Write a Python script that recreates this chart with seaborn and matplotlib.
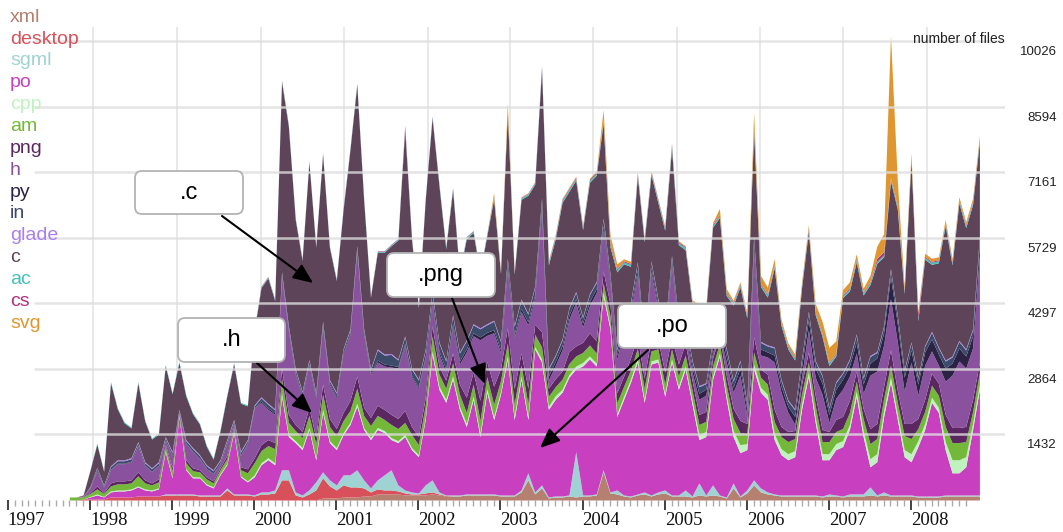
import pandas as pd
import seaborn as sns
import matplotlib
matplotlib.use("Agg")
import matplotlib.pyplot as plt
from matplotlib.patches import FancyBboxPatch, FancyArrowPatch
from matplotlib.transforms import Affine2D

# --- data: files touched per month, by extension (Oct 1997 .. Nov 2008) ---
months = pd.date_range("1997-10-01", periods=134, freq="MS")

xml = [0, 0, 0, 0, 0, 0, 0, 0, 0, 0, 0, 0,
       0, 0, 0, 0, 0, 0, 0, 0, 0, 0, 0, 0,
       0, 0, 0, 0, 0, 0, 0, 0, 0, 0, 0, 0,
       0, 44, 44, 44, 66, 66, 66, 88, 88, 132, 132, 132,
       132, 110, 110, 110, 110, 132, 110, 88, 88, 88, 110, 110,
       110, 110, 110, 88, 88, 88, 176, 440, 132, 264, 44, 66,
       66, 88, 66, 88, 88, 110, 616, 154, 132, 88, 66, 110,
       132, 88, 132, 154, 88, 88, 88, 66, 110, 88, 110, 88,
       44, 264, 66, 154, 330, 176, 132, 110, 88, 88, 88, 88,
       88, 88, 66, 88, 88, 66, 88, 88, 88, 110, 88, 110,
       88, 88, 88, 88, 66, 66, 66, 66, 88, 88, 88, 88,
       88, 88]
desktop = [0, 0, 22, 22, 22, 22, 66, 66, 66, 66, 88, 88,
           88, 88, 110, 110, 110, 110, 110, 88, 88, 88, 88, 220,
           110, 110, 110, 88, 132, 132, 154, 440, 440, 110, 66, 132,
           220, 440, 264, 176, 264, 220, 220, 176, 88, 110, 88, 88,
           66, 44, 22, 22, 44, 44, 22, 11, 0, 0, 0, 0,
           0, 0, 0, 0, 0, 0, 0, 0, 0, 0, 0, 0,
           0, 0, 0, 0, 0, 0, 0, 0, 0, 0, 0, 0,
           0, 0, 0, 0, 0, 0, 0, 0, 0, 0, 0, 0,
           0, 0, 0, 0, 0, 0, 0, 0, 0, 0, 0, 0,
           0, 0, 0, 0, 0, 0, 0, 0, 0, 0, 0, 0,
           0, 0, 0, 0, 0, 0, 0, 0, 0, 0, 0, 0,
           0, 0]
sgml = [0, 0, 0, 0, 0, 0, 0, 0, 0, 0, 0, 0,
        0, 0, 22, 22, 22, 22, 22, 22, 22, 22, 22, 44,
        22, 22, 22, 22, 44, 44, 66, 220, 220, 66, 44, 88,
        176, 132, 132, 110, 220, 264, 374, 176, 88, 198, 330, 440,
        132, 66, 44, 22, 176, 264, 44, 11, 22, 22, 22, 22,
        22, 22, 22, 22, 22, 22, 44, 154, 44, 66, 22, 22,
        22, 22, 990, 22, 22, 22, 44, 22, 88, 22, 22, 22,
        44, 22, 44, 66, 22, 22, 132, 22, 264, 22, 220, 22,
        22, 110, 22, 66, 110, 88, 44, 22, 22, 22, 22, 22,
        22, 22, 22, 44, 22, 22, 44, 44, 44, 176, 22, 66,
        22, 22, 22, 22, 22, 22, 22, 22, 22, 22, 22, 22,
        22, 22]
po = [0, 0, 0, 44, 88, 44, 110, 132, 132, 154, 198, 132,
      110, 154, 924, 352, 1694, 528, 352, 374, 220, 154, 440, 506,
      1342, 374, 264, 396, 594, 704, 550, 1606, 726, 1078, 990, 1320,
      484, 1298, 814, 770, 880, 1100, 1386, 1100, 1056, 1100, 924, 660,
      924, 1166, 924, 792, 1430, 2750, 2244, 2024, 2530, 1870, 1474, 2068,
      1254, 2222, 1628, 2200, 2970, 1650, 2420, 1166, 3124, 2684, 1914, 2112,
      2266, 2574, 1804, 2816, 2970, 2794, 3806, 3564, 1606, 2090, 2486, 2882,
      1958, 2860, 2838, 2046, 2904, 2310, 2640, 2002, 946, 1276, 2310, 3036,
      2134, 1012, 946, 880, 2420, 2090, 2024, 1188, 880, 770, 836, 1870,
      2596, 1584, 792, 748, 990, 1078, 1408, 2134, 1254, 440, 726, 1650,
      2464, 1650, 836, 726, 1078, 1452, 2046, 1826, 990, 484, 484, 616,
      1430, 2310]
cpp = [0, 0, 0, 11, 22, 11, 22, 22, 22, 22, 22, 22,
       22, 22, 22, 22, 22, 22, 22, 22, 22, 22, 22, 22,
       22, 22, 22, 44, 44, 44, 44, 66, 44, 44, 44, 44,
       44, 66, 44, 44, 44, 44, 66, 44, 44, 44, 44, 44,
       44, 44, 44, 44, 44, 66, 66, 66, 66, 66, 66, 66,
       66, 77, 66, 55, 66, 77, 66, 66, 55, 66, 66, 77,
       66, 55, 66, 77, 66, 66, 77, 66, 55, 66, 66, 77,
       66, 66, 66, 66, 66, 66, 66, 88, 110, 110, 66, 66,
       88, 132, 176, 132, 110, 110, 110, 132, 132, 132, 132, 110,
       88, 110, 132, 132, 132, 132, 110, 110, 132, 176, 176, 132,
       110, 110, 154, 176, 132, 132, 110, 110, 176, 286, 286, 220,
       132, 110]
am = [66, 66, 44, 66, 110, 66, 110, 132, 132, 132, 220, 132,
      110, 132, 88, 132, 44, 132, 132, 110, 110, 88, 88, 110,
      66, 132, 176, 264, 264, 264, 308, 330, 264, 220, 220, 264,
      308, 330, 308, 264, 264, 264, 330, 264, 264, 264, 242, 286,
      264, 264, 286, 220, 264, 330, 264, 242, 286, 264, 242, 264,
      286, 264, 264, 242, 286, 264, 242, 286, 264, 264, 220, 198,
      220, 242, 220, 220, 242, 220, 198, 220, 242, 220, 198, 220,
      242, 220, 220, 198, 220, 220, 242, 220, 220, 220, 220, 198,
      220, 264, 264, 220, 264, 220, 220, 264, 264, 264, 264, 220,
      220, 264, 264, 264, 264, 264, 264, 220, 264, 330, 330, 264,
      264, 264, 308, 330, 264, 264, 264, 264, 330, 374, 374, 330,
      264, 264]
png = [0, 0, 0, 22, 66, 22, 66, 66, 66, 66, 88, 66,
       44, 66, 44, 66, 22, 66, 66, 44, 44, 44, 44, 66,
       44, 66, 88, 110, 132, 132, 132, 220, 176, 132, 132, 176,
       132, 220, 176, 154, 176, 220, 264, 176, 176, 220, 220, 220,
       220, 264, 176, 176, 176, 220, 176, 176, 220, 220, 330, 264,
       440, 330, 396, 264, 330, 330, 264, 330, 220, 330, 176, 176,
       176, 264, 220, 220, 264, 264, 264, 264, 220, 220, 264, 264,
       220, 264, 220, 264, 264, 264, 264, 220, 220, 220, 176, 176,
       220, 220, 264, 220, 330, 176, 220, 264, 220, 220, 176, 220,
       220, 220, 264, 220, 264, 264, 264, 220, 220, 330, 330, 264,
       330, 264, 264, 330, 220, 264, 264, 264, 264, 330, 330, 330,
       264, 220]
h = [0, 0, 22, 88, 330, 110, 286, 374, 374, 396, 572, 308,
     242, 286, 88, 264, 0, 352, 352, 242, 176, 154, 88, 264,
     66, 242, 550, 1078, 924, 660, 616, 1991, 1815, 1089, 759, 935,
     869, 1243, 737, 671, 1265, 1441, 2739, 1595, 935, 946, 946, 1034,
     1100, 1430, 1078, 1056, 858, 484, 264, 176, 572, 440, 990, 792,
     1320, 572, 1166, 352, 1276, 1122, 902, 1386, 572, 2684, 176, 286,
     462, 704, 946, 330, 594, 1056, 902, 418, 726, 1012, 968, 1364,
     572, 1474, 638, 682, 1540, 748, 242, 176, 330, 352, 132, 66,
     286, 352, 990, 176, 1870, 308, 374, 1034, 748, 418, 132, 154,
     484, 396, 770, 198, 462, 594, 528, 396, 330, 1166, 1144, 902,
     1122, 1056, 704, 1342, 506, 748, 484, 396, 726, 1144, 1452, 1276,
     1122, 2354]
py = [0, 0, 0, 11, 22, 11, 11, 11, 11, 11, 11, 11,
      11, 11, 11, 11, 11, 11, 11, 11, 11, 11, 11, 11,
      11, 11, 11, 11, 33, 33, 33, 33, 33, 33, 33, 33,
      33, 33, 33, 33, 33, 33, 33, 33, 33, 44, 44, 44,
      33, 33, 33, 33, 33, 66, 66, 66, 66, 66, 66, 66,
      66, 66, 66, 66, 66, 66, 66, 66, 66, 88, 88, 88,
      88, 88, 88, 88, 88, 88, 88, 88, 88, 88, 88, 88,
      88, 88, 88, 88, 88, 88, 88, 110, 132, 132, 110, 132,
      132, 110, 154, 132, 176, 132, 110, 154, 132, 132, 176, 220,
      220, 198, 242, 176, 198, 220, 220, 242, 198, 264, 286, 264,
      484, 396, 308, 264, 242, 286, 264, 242, 286, 264, 286, 264,
      264, 242]
in_ = [0, 0, 0, 22, 44, 33, 55, 55, 55, 55, 55, 55,
       55, 55, 55, 55, 33, 55, 55, 55, 55, 55, 55, 55,
       55, 66, 55, 44, 66, 77, 66, 55, 66, 77, 66, 55,
       66, 77, 55, 66, 77, 66, 55, 66, 77, 220, 198, 231,
       143, 143, 143, 143, 143, 176, 176, 176, 176, 176, 176, 176,
       176, 165, 187, 176, 154, 176, 187, 165, 176, 132, 154, 121,
       132, 143, 132, 121, 154, 132, 143, 132, 121, 132, 143, 154,
       132, 121, 132, 143, 132, 154, 132, 132, 143, 121, 132, 154,
       143, 132, 154, 121, 132, 143, 132, 154, 132, 121, 143, 154,
       165, 143, 154, 132, 143, 121, 132, 154, 132, 143, 121, 132,
       154, 165, 143, 154, 132, 121, 143, 132, 154, 132, 143, 132,
       132, 143]
glade = [0, 0, 0, 11, 11, 11, 22, 22, 22, 22, 22, 22,
         22, 22, 22, 22, 22, 22, 22, 22, 22, 22, 22, 22,
         22, 22, 22, 22, 22, 22, 22, 22, 22, 22, 22, 22,
         22, 22, 22, 22, 22, 22, 22, 22, 22, 22, 22, 22,
         22, 22, 22, 22, 22, 22, 22, 22, 22, 22, 22, 22,
         22, 22, 22, 22, 22, 22, 22, 22, 22, 22, 22, 22,
         22, 22, 22, 22, 22, 22, 22, 22, 22, 22, 22, 22,
         22, 22, 22, 22, 22, 22, 22, 22, 22, 22, 22, 22,
         22, 22, 22, 22, 22, 22, 22, 22, 22, 22, 22, 22,
         22, 22, 22, 22, 22, 22, 22, 22, 22, 22, 22, 22,
         22, 22, 22, 22, 22, 22, 22, 22, 22, 22, 22, 22,
         22, 22]
c = [0, 0, 22, 352, 506, 297, 1815, 1111, 803, 649, 1287, 891,
     627, 605, 1551, 1265, 1023, 957, 737, 671, 407, 231, 627, 957,
     1221, 1045, 737, 1617, 2387, 2739, 2365, 4158, 4356, 3256, 2860, 4312,
     3168, 3652, 2882, 2442, 3036, 3916, 3520, 2816, 1562, 2112, 2222, 2354,
     2596, 4510, 2816, 1562, 3256, 3795, 3421, 2431, 2739, 1705, 2211, 1991,
     1199, 1925, 2651, 1463, 3179, 1122, 2178, 2574, 2222, 2827, 2255, 2541,
     2981, 2541, 2431, 1903, 2431, 2321, 2079, 583, 1683, 1199, 781, 1881,
     2167, 1881, 2101, 2167, 2343, 1595, 1551, 1210, 1694, 1562, 2464, 2211,
     1155, 1639, 1595, 1859, 2299, 1199, 1045, 1727, 1177, 1111, 1067, 1551,
     1749, 1001, 847, 913, 561, 1639, 1485, 1573, 1793, 1551, 1925, 1507,
     1914, 2321, 1661, 3971, 1232, 1881, 1463, 1837, 2937, 1991, 3003, 2651,
     2717, 2057]
ac = [0, 0, 0, 11, 22, 22, 22, 22, 22, 22, 22, 22,
      22, 22, 22, 22, 22, 22, 22, 22, 22, 22, 22, 22,
      22, 22, 22, 22, 22, 22, 22, 22, 22, 22, 22, 22,
      22, 22, 22, 22, 22, 22, 22, 22, 22, 22, 22, 22,
      22, 22, 22, 22, 22, 33, 33, 33, 33, 33, 33, 33,
      33, 33, 33, 33, 33, 33, 33, 33, 33, 44, 44, 44,
      44, 44, 44, 44, 44, 44, 44, 44, 44, 44, 44, 44,
      44, 44, 44, 44, 66, 44, 44, 44, 44, 44, 44, 44,
      44, 44, 44, 44, 44, 44, 44, 44, 44, 44, 44, 44,
      44, 44, 44, 44, 44, 44, 44, 44, 44, 44, 44, 44,
      44, 44, 44, 44, 44, 44, 44, 44, 44, 44, 44, 44,
      44, 44]
cs = [0, 0, 0, 0, 0, 0, 0, 0, 0, 0, 0, 0,
      0, 0, 0, 0, 0, 0, 0, 0, 0, 0, 0, 0,
      0, 0, 0, 0, 11, 11, 11, 11, 11, 11, 11, 11,
      11, 11, 11, 11, 11, 11, 11, 11, 11, 11, 11, 11,
      11, 66, 11, 11, 11, 11, 11, 11, 11, 11, 11, 11,
      11, 11, 11, 11, 11, 11, 11, 11, 11, 22, 22, 22,
      22, 22, 22, 22, 22, 22, 22, 44, 22, 22, 22, 22,
      22, 22, 22, 22, 22, 22, 22, 22, 22, 22, 22, 22,
      22, 22, 22, 22, 22, 22, 22, 22, 22, 22, 22, 22,
      22, 22, 22, 22, 22, 22, 22, 22, 22, 22, 66, 66,
      22, 22, 22, 22, 110, 22, 22, 22, 22, 22, 22, 22,
      22, 22]
svg = [0, 0, 0, 0, 0, 0, 0, 0, 0, 0, 0, 0,
       0, 0, 0, 0, 0, 0, 0, 0, 0, 0, 0, 0,
       0, 0, 0, 0, 0, 0, 0, 0, 0, 0, 0, 0,
       0, 0, 0, 0, 0, 0, 0, 0, 0, 0, 0, 0,
       0, 0, 0, 0, 0, 0, 0, 0, 0, 0, 0, 0,
       0, 0, 88, 22, 176, 11, 11, 11, 11, 0, 22, 22,
       22, 22, 22, 22, 22, 22, 220, 176, 110, 44, 44, 22,
       22, 22, 22, 22, 22, 22, 22, 33, 33, 33, 33, 132,
       88, 44, 44, 44, 330, 176, 154, 132, 66, 66, 66, 66,
       66, 176, 264, 330, 264, 110, 132, 110, 88, 132, 264, 396,
       3113, 550, 88, 88, 44, 66, 66, 66, 66, 66, 66, 66,
       66, 66]

extensions = ["xml", "desktop", "sgml", "po", "cpp", "am", "png", "h",
              "py", "in", "glade", "c", "ac", "cs", "svg"]
series = [xml, desktop, sgml, po, cpp, am, png, h, py, in_, glade, c, ac, cs, svg]
palette = ["#b5806f", "#d8505a", "#9fd3d3", "#c83fc0", "#bff2bf", "#74b83a",
           "#5b2760", "#8a519f", "#2b2244", "#3c4b6a", "#a97ef0", "#5d4458",
           "#45c0bb", "#b0307e", "#e0962f"]
tick_values = [1432, 2864, 4297, 5729, 7161, 8594, 10026]
years = list(range(1997, 2009))

assert all(len(s) == len(months) for s in series)
df = pd.DataFrame(dict(zip(extensions, series)), index=months)
t = df.index.year + (df.index.month - 1) / 12

# --- drawing ---
sns.set_style("white")
plt.rcParams["font.family"] = ["Liberation Sans", "DejaVu Sans"]

W, H = 1063, 532
fig = plt.figure(figsize=(W / 100, H / 100), dpi=100)
ax = fig.add_axes([0, 32 / H, 1005 / W, 473 / H])

# vertical grid sits behind the streams
for g in [1998.04, 1999.06, 2000.08, 2001.09, 2002.12, 2003.12,
          2004.13, 2005.15, 2006.16, 2007.17, 2008.19]:
    ax.axvline(g, color="#e4e4e4", lw=1.2, zorder=0)

ax.stackplot(t, df.T.values, colors=palette, linewidth=0, zorder=2)

# horizontal grid is drawn over the streams
for v in tick_values:
    ax.axhline(v, xmin=35 / 1005, xmax=1, color="#dedede", lw=1.8, alpha=0.8, zorder=4)
    ax.annotate(f"{v}", xy=(1, v), xycoords=("axes fraction", "data"),
                xytext=(52, -11), textcoords="offset pixels",
                ha="right", va="center", fontsize=9.5, color="#222222")

ax.set_xlim(1996.904, 2009.145)
ax.set_ylim(0, 10332)
ax.set_yticks([])
ax.set_xticks(years)
ax.set_xticklabels([str(y) for y in years], fontfamily="Liberation Serif",
                   fontsize=13.5, ha="left")
ax.set_xticks([y + m / 12 for y in years for m in range(12) if y + m / 12 < 2008.7],
              minor=True)
ax.tick_params(axis="x", which="major", bottom=True, length=7.5, width=1.3,
               color="#333333", pad=1, labelcolor="#111111")
ax.tick_params(axis="x", which="minor", bottom=True, length=4, width=1.0,
               color="#aaaaaa")
for s in ax.spines.values():
    s.set_visible(False)

fig.text(1005 / W, 1 - 43 / H, "number of files", ha="right", va="baseline",
         fontsize=10, color="#222222")

# legend: coloured names down the left edge
for i, (name, col) in enumerate(zip(extensions, palette)):
    fig.text(10 / W, 1 - (21.7 + 21.86 * i) / H, name, color=col,
             fontsize=14, ha="left", va="baseline")

# callout boxes with arrows (pixel coordinates, origin top-left)
pix = Affine2D().scale(1, -1).translate(0, H)
callouts = [(".c", (135, 171, 108, 43), (222, 216), (313, 283)),
            (".h", (178, 318, 107, 44), (257, 363), (312, 413)),
            (".png", (387, 253, 108, 44), (452, 298), (485, 384)),
            (".po", (618, 304, 108, 44), (648, 350), (540, 448))]
for label, (bx, by, bw, bh), a, b in callouts:
    fig.add_artist(FancyArrowPatch(a, b, arrowstyle="-|>,head_length=0.75,head_width=0.32",
                                   mutation_scale=16, lw=1.5, color="black",
                                   transform=pix, shrinkA=0, shrinkB=0, zorder=9))
    fig.add_artist(FancyBboxPatch((bx, by), bw, bh, boxstyle="round,pad=0,rounding_size=7",
                                  transform=pix, facecolor="white", edgecolor="#b3b3b3",
                                  lw=1.3, zorder=10))
    fig.text((bx + bw / 2) / W, 1 - (by + bh / 2) / H, label, ha="center",
             va="center", fontsize=17, color="black", zorder=11)

fig.savefig("out.png", dpi=100)
